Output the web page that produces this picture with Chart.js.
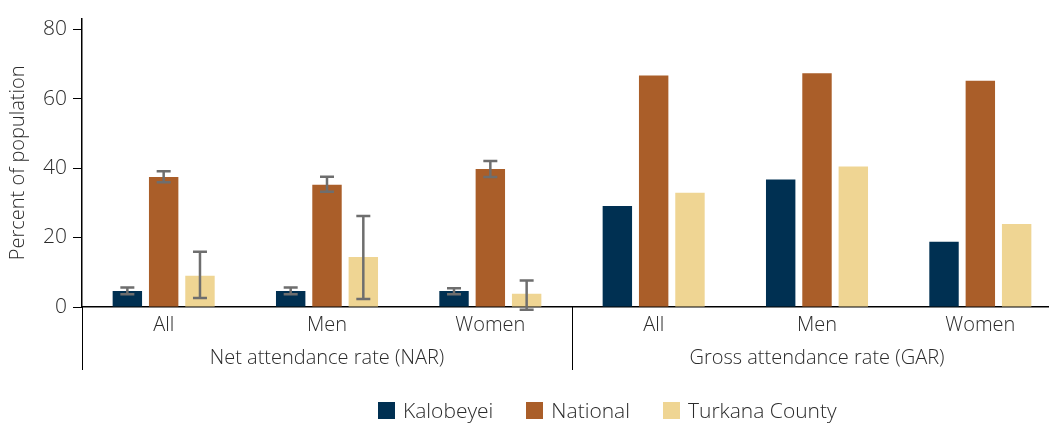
<!DOCTYPE html>
<html>
<head>
<meta charset="utf-8">
<title>Attendance rates</title>
<script src="https://cdn.jsdelivr.net/npm/chart.js@4.4.1/dist/chart.umd.min.js"></script>
<style>
	body{margin:0;overflow:hidden;background:#fff;}
	.wrap{position:relative;width:1062px;height:423px;}
	#legend{position:absolute;left:378px;top:396px;display:flex;align-items:center;font-family:'Open Sans',sans-serif;font-weight:300;font-size:21px;color:#2b2b2b;}
	#legend .item{display:flex;align-items:center;margin-right:33px;}
	#legend .box{display:inline-block;width:17px;height:17px;margin-right:8px;}
</style>
</head>
<body>
<div class="wrap">
	<canvas id="attendance-chart" width="1062" height="423"></canvas>
	<div id="legend"></div>
</div>
<script>
var categories = ['All', 'Men', 'Women', 'All', 'Men', 'Women'];
var groups = ['Net attendance rate (NAR)', 'Gross attendance rate (GAR)'];
var yTicks = [0, 20, 40, 60, 80];

var kalobeyei = [4.6, 4.6, 4.6, 29.1, 36.7, 18.8];
var national = [37.4, 35.2, 39.7, 66.6, 67.3, 65.1];
var turkana = [9.0, 14.4, 3.8, 32.9, 40.4, 23.9];

// confidence intervals, only for NAR
var kalobeyeiLow = [3.7, 3.7, 3.7, null, null, null];
var kalobeyeiHigh = [5.6, 5.6, 5.4, null, null, null];
var nationalLow = [35.9, 33.2, 37.4, null, null, null];
var nationalHigh = [39.1, 37.5, 42.0, null, null, null];
var turkanaLow = [2.6, 2.3, -0.8, null, null, null];
var turkanaHigh = [15.9, 26.2, 7.6, null, null, null];

var textColor = '#2b2b2b';
var fontFamily = "'Open Sans', sans-serif";

var errorBars = {
	id: 'errorBars',
	afterDatasetsDraw: function(chart){
		var c = chart.ctx;
		var y = chart.scales.y;
		chart.data.datasets.forEach(function(ds, i){
			var meta = chart.getDatasetMeta(i);
			meta.data.forEach(function(bar, j){
				if (ds.errLow[j] == null) return;
				var x = bar.x;
				var y1 = y.getPixelForValue(ds.errLow[j]);
				var y2 = y.getPixelForValue(ds.errHigh[j]);
				c.save();
				c.strokeStyle = '#6e6e6e';
				c.lineWidth = 2.5;
				c.beginPath();
				c.moveTo(x, y1); c.lineTo(x, y2);
				c.moveTo(x - 7, y1); c.lineTo(x + 7, y1);
				c.moveTo(x - 7, y2); c.lineTo(x + 7, y2);
				c.stroke();
				c.restore();
			});
		});
	}
};

// vertical separators under the axis (left edge and between the two groups)
var groupLines = {
	id: 'groupLines',
	afterDraw: function(chart){
		var c = chart.ctx;
		var x = chart.scales.x;
		var x2 = chart.scales.x2;
		var mid = (x.getPixelForValue(2) + x.getPixelForValue(3)) / 2;
		var end = x2.bottom - x2.options.ticks.padding;
		c.save();
		c.strokeStyle = '#000';
		c.lineWidth = 1;
		[x.left, mid].forEach(function(px){
			c.beginPath();
			c.moveTo(Math.round(px) + 0.5, chart.chartArea.bottom);
			c.lineTo(Math.round(px) + 0.5, end);
			c.stroke();
		});
		c.restore();
	}
};

var ctx = document.getElementById('attendance-chart');
var myChart = new Chart(ctx, {
	type: 'bar',
	data: {
		labels: categories,
		datasets: [{
			label: 'Kalobeyei',
			data: kalobeyei,
			errLow: kalobeyeiLow,
			errHigh: kalobeyeiHigh,
			backgroundColor: '#003052'
		}, {
			label: 'National',
			data: national,
			errLow: nationalLow,
			errHigh: nationalHigh,
			backgroundColor: '#aa5e29'
		}, {
			label: 'Turkana County',
			data: turkana,
			errLow: turkanaLow,
			errHigh: turkanaHigh,
			backgroundColor: '#efd593'
		}]
	},
	options: {
		responsive: false,
		animation: false,
		categoryPercentage: 0.667,
		barPercentage: 0.81,
		layout: {
			padding: {top: 12, right: 0, bottom: 50, left: 0}
		},
		plugins: {
			legend: {display: false},
			tooltip: {enabled: false}
		},
		scales: {
			y: {
				min: 0,
				max: 83,
				afterBuildTicks: function(scale){
					scale.ticks = yTicks.map(function(v){ return {value: v}; });
				},
				afterFit: function(scale){
					scale.width = 82;
				},
				grid: {drawOnChartArea: false, tickLength: 9, color: '#000', lineWidth: 1},
				border: {color: '#000', width: 1.5},
				ticks: {
					padding: 6,
					color: textColor,
					font: {family: fontFamily, size: 21, weight: 300}
				},
				title: {
					display: true,
					text: 'Percent of population',
					color: textColor,
					padding: {top: 6, bottom: 0},
					font: {family: fontFamily, size: 20, weight: 300}
				}
			},
			x: {
				offset: true,
				grid: {display: false, drawTicks: false},
				border: {color: '#000', width: 1.5},
				ticks: {
					padding: 6,
					color: textColor,
					font: {family: fontFamily, size: 20, weight: 300}
				}
			},
			x2: {
				type: 'category',
				labels: groups,
				position: 'bottom',
				offset: true,
				grid: {display: false, drawTicks: false},
				border: {display: false},
				ticks: {
					padding: 3,
					color: textColor,
					font: {family: fontFamily, size: 20, weight: 300}
				}
			}
		}
	},
	plugins: [errorBars, groupLines]
});

// legend as html, colours taken from the datasets
var legend = document.getElementById('legend');
myChart.data.datasets.forEach(function(ds){
	var item = document.createElement('div');
	item.className = 'item';
	var box = document.createElement('span');
	box.className = 'box';
	box.style.background = ds.backgroundColor;
	item.appendChild(box);
	item.appendChild(document.createTextNode(ds.label));
	legend.appendChild(item);
});
</script>
</body>
</html>
